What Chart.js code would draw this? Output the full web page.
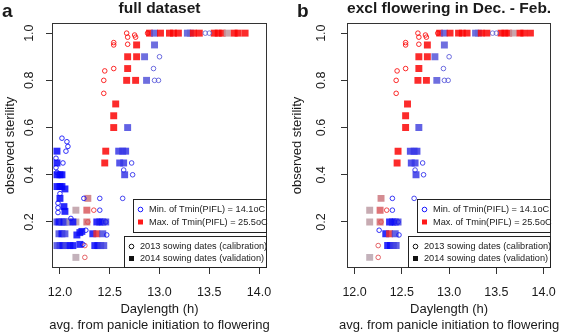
<!DOCTYPE html>
<html><head><meta charset="utf-8">
<script src="https://cdn.jsdelivr.net/npm/chart.js@4/dist/chart.umd.min.js"></script>
<style>
html,body{margin:0;padding:0;background:#fff;}
#wrap{position:relative;width:567px;height:332px;overflow:hidden;background:#fff;}
canvas{position:absolute;top:0;}
</style></head><body>
<div id="wrap">
<canvas id="ca" style="left:0px" width="285" height="332"></canvas>
<canvas id="cb" style="left:285px" width="282" height="332"></canvas>
</div>
<script>
// ---------- tick labels ----------
const xTicks = [12.0, 12.5, 13.0, 13.5, 14.0];
const yTicks = [0.2, 0.4, 0.6, 0.8, 1.0];

// ---------- 2013 sowing dates (calibration) : open circles ----------
const calDay = [12.67,12.68,12.75,12.76,12.88,13.46,13.50,12.54,12.54,12.68,
                13.00,12.45,12.54,12.94,12.44,12.95,12.99,12.44,12.72,12.64,
                12.73,12.63,12.40,12.40,12.34,12.28,12.42,12.46,12.26,12.47,
                12.25,12.25,12.24,12.23,12.02,12.07,12.08,12.06,11.96,12.03,
                11.96,11.97,12.00,11.98,11.98,11.98,12.11];
const calSter = [1.000,0.983,0.992,0.983,1.000,1.000,1.000,0.960,0.950,0.953,
                 0.900,0.840,0.850,0.850,0.800,0.800,0.800,0.745,0.450,0.420,
                 0.400,0.300,0.300,0.250,0.250,0.200,0.200,0.200,0.165,0.145,
                 0.100,0.050,0.300,0.105,0.555,0.540,0.520,0.500,0.470,0.450,
                 0.430,0.410,0.320,0.280,0.260,0.240,0.215];
const calTmin = [25.3,25.3,25.3,25.3,25.3,17.5,17.5,25.3,25.3,25.3,
                 17.0,25.3,25.3,17.0,25.3,17.0,17.0,25.3,15.5,15.5,
                 15.5,15.5,15.0,15.0,24.0,23.0,15.0,15.0,14.5,14.8,
                 23.0,23.0,14.5,14.5,14.5,14.5,14.5,14.5,14.5,14.5,
                 14.5,14.5,14.5,14.5,14.5,14.5,14.5];
const calDecFeb = [0,0,0,0,0,0,0,0,0,0, 0,0,0,0,0,0,0,0,0,0, 0,0,0,0,0,0,0,0,0,0,
                   0,0,1,1,1,1,1,1,1,1, 1,1,1,1,1,1,1];

// ---------- 2014 sowing dates (validation) : filled squares ----------
const valDay = [12.90,12.95,13.01,13.10,13.14,13.19,13.28,13.31,13.34,13.40,
                13.55,13.59,13.63,13.68,13.75,13.79,13.86,
                12.77,12.95, 12.68,12.77,12.85, 12.68, 12.67,12.76,12.87,
                12.56, 12.54, 12.54,12.68, 12.46,12.59,12.63,12.66, 12.45,12.60,12.64, 12.65,
                12.28, 12.16,12.27, 12.16,12.27,12.37,12.40,12.43,12.46,
                12.33,12.37,12.43, 12.35,12.38,12.41,12.44, 12.16,
                11.97, 11.97, 11.97,12.00,12.02, 11.97,12.00,12.02,12.05, 12.00, 12.04,12.05,
                11.97,11.99,12.02,12.04,12.06,12.10,12.13,
                11.99,12.02,12.05,12.17,12.20,12.22,
                11.97,12.00,12.03,12.06,12.10,12.13,12.20];
const valSter = [1.00,1.00,1.00,1.00,1.00,1.00,1.00,1.00,1.00,1.00,
                 1.00,1.00,1.00,1.00,1.00,1.00,1.00,
                 0.95,0.95, 0.90,0.90,0.90, 0.85, 0.80,0.80,0.80,
                 0.70, 0.65, 0.60,0.60, 0.50,0.50,0.50,0.50, 0.45,0.45,0.45, 0.40,
                 0.30, 0.25,0.25, 0.20,0.20,0.20,0.20,0.20,0.20,
                 0.15,0.15,0.15, 0.10,0.10,0.10,0.10, 0.05,
                 0.50, 0.45, 0.40,0.40,0.40, 0.35,0.35,0.35,0.34, 0.30, 0.265,0.245,
                 0.20,0.20,0.20,0.20,0.20,0.20,0.20,
                 0.15,0.15,0.15,0.145,0.155,0.16,
                 0.10,0.10,0.10,0.10,0.10,0.10,0.105];
const valTmin = [25.3,17.0,25.3,25.3,25.3,25.3,17.0,17.5,25.3,25.3,
                 25.3,25.3,25.3,20.5,25.3,25.3,25.3,
                 25.3,17.0, 25.3,25.3,17.0, 25.3, 25.3,25.3,17.0,
                 25.3, 25.3, 25.3,16.5, 25.3,16.0,16.0,16.0, 25.3,16.0,16.0, 16.0,
                 21.5, 20.3,22.5, 20.3,22.0,14.5,15.0,14.5,16.5,
                 14.5,24.0,16.5, 14.5,14.5,16.0,16.5, 20.0,
                 14.3, 14.3, 14.3,14.3,14.3, 14.3,14.3,14.3,14.3, 14.3, 14.3,14.3,
                 16.5,14.5,16.0,14.5,16.5,19.5,14.5,
                 16.5,14.5,16.5,14.5,14.5,14.5,
                 16.5,16.0,14.5,16.5,14.5,14.5,14.5];
const valDecFeb = [0,0,0,0,0,0,0,0,0,0, 0,0,0,0,0,0,0,
                   0,0, 0,0,0, 0, 0,0,0, 0, 0, 0,0, 0,0,0,0, 0,0,0, 0,
                   0, 0,0, 0,0,0,0,0,0, 0,0,0, 0,0,0,0, 0,
                   1, 1, 1,1,1, 1,1,1,1, 1, 1,1,
                   1,1,1,1,1,1,1,
                   1,1,1,1,1,1,
                   1,1,1,1,1,1,1];

const tminLow = 14.1, tminHigh = 25.5;

// colour ramp blue -> grey -> red
const rampT = [14.1, 17.5, 20.0, 25.5];
const rampC = [[0,0,255],[100,100,210],[185,165,175],[255,0,0]];
function tminColour(t, a) {
  let i = 0;
  while (i < rampT.length - 2 && t > rampT[i + 1]) i++;
  const f = Math.max(0, Math.min(1, (t - rampT[i]) / (rampT[i + 1] - rampT[i])));
  const c = rampC[i].map((v, k) => Math.round(v + f * (rampC[i + 1][k] - v)));
  return 'rgba(' + c[0] + ',' + c[1] + ',' + c[2] + ',' + a + ')';
}

Chart.defaults.font.family = '"Liberation Sans", Arial, Helvetica, sans-serif';
Chart.defaults.color = '#1a1a1a';

const FONT = '"Liberation Sans", Arial, Helvetica, sans-serif';

function buildPoints(xs, ys, ts, flags, excl) {
  const out = [];
  xs.forEach((x, i) => {
    if (excl && flags[i]) return;
    out.push({ x: x, y: ys[i], t: ts[i] });
  });
  return out;
}

function makeDeco(cfg) {
  return {
    id: 'deco',
    afterDraw(chart) {
      const ctx = chart.ctx;
      const a = chart.chartArea;
      const ys = chart.scales.y;
      ctx.save();
      // plot box
      ctx.strokeStyle = '#333';
      ctx.lineWidth = 1;
      ctx.strokeRect(Math.round(a.left) + 0.5, Math.round(a.top) + 0.5,
                     Math.round(a.right - a.left) - 1, Math.round(a.bottom - a.top) - 1);
      ctx.fillStyle = '#1a1a1a';
      // y tick labels (rotated)
      ctx.font = '12.5px ' + FONT;
      ctx.textAlign = 'center';
      ctx.textBaseline = 'middle';
      yTicks.forEach(v => {
        const py = ys.getPixelForValue(v);
        ctx.save();
        ctx.translate(cfg.yLabX, py);
        ctx.rotate(-Math.PI / 2);
        ctx.fillText(v.toFixed(1), 0, 0);
        ctx.restore();
      });
      // y axis title
      ctx.save();
      ctx.font = '13px ' + FONT;
      ctx.translate(cfg.yTitleX, (a.top + a.bottom) / 2);
      ctx.rotate(-Math.PI / 2);
      ctx.fillText('observed sterility', 0, 0);
      ctx.restore();
      // x axis titles
      const cx = (a.left + a.right) / 2;
      ctx.font = '13px ' + FONT;
      ctx.textBaseline = 'alphabetic';
      ctx.fillText('Daylength (h)', cx, 313);
      ctx.fillText('avg. from panicle initiation to flowering', cx, 329);
      // title
      ctx.font = 'bold 15.5px ' + FONT;
      ctx.fillText(cfg.title, cx, 13);
      // panel letter
      ctx.font = 'bold 19px ' + FONT;
      ctx.textAlign = 'left';
      ctx.fillText(cfg.letter, a.left - 50, 17);
      // legend 1
      const R = Math.round(a.right);
      ctx.fillStyle = '#fff';
      ctx.strokeStyle = '#222';
      const l1 = R - 134;
      ctx.fillRect(l1 + 0.5, 199.5, 133, 33);
      ctx.strokeRect(l1 + 0.5, 199.5, 133, 33);
      const l2 = R - 143;
      ctx.fillRect(l2 + 0.5, 236.5, 142, 31);
      ctx.strokeRect(l2 + 0.5, 236.5, 142, 31);
      ctx.font = '9.2px ' + FONT;
      ctx.textBaseline = 'middle';
      ctx.fillStyle = '#1a1a1a';
      ctx.fillText('Min. of Tmin(PIFL) = ' + tminLow.toFixed(1) + 'oC', l1 + 16, 209.5);
      ctx.fillText('Max. of Tmin(PIFL) = ' + tminHigh.toFixed(1) + 'oC', l1 + 16, 222);
      ctx.fillText('2013 sowing dates (calibration)', l2 + 16, 246.5);
      ctx.fillText('2014 sowing dates (validation)', l2 + 16, 258.5);
      // legend symbols
      ctx.lineWidth = 1;
      ctx.strokeStyle = tminColour(tminLow, 0.9);
      ctx.beginPath(); ctx.arc(l1 + 7.5, 209.5, 2.3, 0, 2 * Math.PI); ctx.stroke();
      ctx.fillStyle = tminColour(tminHigh, 0.9);
      ctx.fillRect(l1 + 5, 219.5, 5, 5);
      ctx.strokeStyle = '#111';
      ctx.beginPath(); ctx.arc(l2 + 7.5, 246.5, 2.3, 0, 2 * Math.PI); ctx.stroke();
      ctx.fillStyle = '#111';
      ctx.fillRect(l2 + 5, 256, 5, 5);
      ctx.restore();
    }
  };
}

function makeChart(id, excl, cfg) {
  const canvas = document.getElementById(id);
  const W = canvas.width;
  return new Chart(canvas, {
    type: 'scatter',
    data: {
      datasets: [
        {
          label: '2013 sowing dates (calibration)',
          data: buildPoints(calDay, calSter, calTmin, calDecFeb, excl),
          pointStyle: 'circle',
          pointRadius: 2.3,
          pointBorderWidth: 1,
          pointBackgroundColor: 'rgba(0,0,0,0)',
          pointBorderColor: c => (c.raw ? tminColour(c.raw.t, 0.85) : '#000')
        },
        {
          label: '2014 sowing dates (validation)',
          data: buildPoints(valDay, valSter, valTmin, valDecFeb, excl),
          pointStyle: 'rect',
          pointRadius: 4.9,
          pointBorderWidth: 0,
          pointBackgroundColor: c => (c.raw ? tminColour(c.raw.t, 0.85) : '#000'),
          pointBorderColor: 'rgba(0,0,0,0)'
        }
      ]
    },
    options: {
      responsive: false,
      animation: false,
      events: [],
      layout: { padding: { left: 0, top: 23, right: W - cfg.right, bottom: 0 } },
      plugins: { legend: { display: false }, tooltip: { enabled: false } },
      scales: {
        x: {
          type: 'linear', min: 11.92, max: 14.08,
          afterBuildTicks: s => { s.ticks = xTicks.map(v => ({ value: v })); },
          afterFit: s => { s.height = 332 - 268; },
          border: { display: false },
          grid: { drawOnChartArea: false, drawTicks: true, tickLength: 6, color: '#333' },
          ticks: { font: { size: 12.5 }, color: '#1a1a1a', padding: 11, maxRotation: 0, autoSkip: false,
                   callback: v => Number(v).toFixed(1) }
        },
        y: {
          type: 'linear', min: 0.005, max: 1.043,
          afterBuildTicks: s => { s.ticks = yTicks.map(v => ({ value: v })); },
          afterFit: s => { s.width = cfg.left; },
          border: { display: false },
          grid: { drawOnChartArea: false, drawTicks: true, tickLength: 6, color: '#333' },
          ticks: { display: false }
        }
      }
    },
    plugins: [makeDeco(cfg)]
  });
}

makeChart('ca', false, { left: 52, right: 267, yLabX: 30, yTitleX: 10, title: 'full dataset', letter: 'a' });
makeChart('cb', true, { left: 62, right: 277, yLabX: 37, yTitleX: 12, title: 'excl flowering in Dec. - Feb.', letter: 'b' });
</script>
</body></html>
